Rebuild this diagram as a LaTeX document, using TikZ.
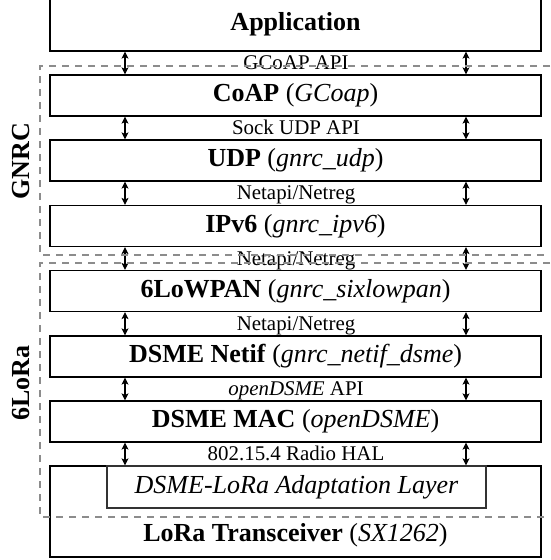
\documentclass[tikz,border=0pt]{standalone}
\usepackage{fontspec}
\setmainfont{Liberation Serif}
\usetikzlibrary{arrows.meta}

\begin{document}
\begin{tikzpicture}[x=0.02cm, y=-0.02cm,
  box/.style={draw, line width=0.7pt, minimum width=9.82cm, minimum height=0.82cm, inner sep=0pt, font=\fontsize{14.8}{17}\selectfont},
  iface/.style={inner sep=0pt, anchor=base, font=\fontsize{11.9}{14}\selectfont},
  arr/.style={{Stealth[length=4pt,width=4pt,inset=1pt]}-{Stealth[length=4pt,width=4pt,inset=1pt]}, line width=0.6pt},
  grp/.style={draw=black!45, dash pattern=on 4pt off 3.4pt, line width=0.75pt},
  side/.style={rotate=90, inner sep=0pt, font=\fontsize{14.8}{17}\selectfont\bfseries}
]
\useasboundingbox (0,0) rectangle (550,560);
\clip (0,0) rectangle (550,560);

% stack
\node[box, minimum height=1.08cm] (app) at (295.5,24) {\textbf{Application}};
\node[box] (coap) at (295.5,95.5) {\textbf{CoAP} (\textit{GCoap})};
\node[box] (udp) at (295.5,160.5) {\textbf{UDP} (\textit{gnrc\_udp})};
\node[box] (ipv6) at (295.5,226) {\textbf{IPv6} (\textit{gnrc\_ipv6})};
\node[box] (lowpan) at (295.5,291) {\textbf{6LoWPAN} (\textit{gnrc\_sixlowpan})};
\node[box] (netif) at (295.5,356.5) {\textbf{DSME Netif} (\textit{gnrc\_netif\_dsme})};
\node[box] (mac) at (295.5,421.5) {\textbf{DSME MAC} (\textit{openDSME})};
\node[box, minimum height=1.82cm] (lora) at (295.5,511.5) {};
\node[draw=black!80, line width=1.2pt, minimum width=7.58cm, minimum height=0.84cm, inner sep=0pt, font=\fontsize{14.8}{17}\selectfont\itshape] (adapt) at (296.5,487) {DSME-LoRa Adaptation Layer};
\node[inner sep=0pt, font=\fontsize{14.8}{17}\selectfont] (trx) at (295.5,535) {\textbf{LoRa Transceiver} (\textit{SX1262})};

% interfaces
\node[iface] (api1) at (296,69.5) {GCoAP API};
\node[iface] (api2) at (296,134.5) {Sock UDP API};
\node[iface] (api3) at (296,199.5) {Netapi/Netreg};
\node[iface] (api4) at (296,265) {Netapi/Netreg};
\node[iface] (api5) at (296,330.5) {Netapi/Netreg};
\node[iface] (api6) at (296,395.5) {\textit{openDSME} API};
\node[iface] (api7) at (296,460.5) {802.15.4 Radio HAL};

% arrows
\coordinate (lt) at (125,0);
\coordinate (rt) at (466,0);
\draw[arr] (app.south -| lt) -- (coap.north -| lt);
\draw[arr] (app.south -| rt) -- (coap.north -| rt);
\draw[arr] (coap.south -| lt) -- (udp.north -| lt);
\draw[arr] (coap.south -| rt) -- (udp.north -| rt);
\draw[arr] (udp.south -| lt) -- (ipv6.north -| lt);
\draw[arr] (udp.south -| rt) -- (ipv6.north -| rt);
\draw[arr] (ipv6.south -| lt) -- (lowpan.north -| lt);
\draw[arr] (ipv6.south -| rt) -- (lowpan.north -| rt);
\draw[arr] (lowpan.south -| lt) -- (netif.north -| lt);
\draw[arr] (lowpan.south -| rt) -- (netif.north -| rt);
\draw[arr] (netif.south -| lt) -- (mac.north -| lt);
\draw[arr] (netif.south -| rt) -- (mac.north -| rt);
\draw[arr] (mac.south -| lt) -- (lora.north -| lt);
\draw[arr] (mac.south -| rt) -- (lora.north -| rt);

% groups
\draw[grp] (550,66) -- (40,66) -- (40,255) -- (550,255);
\draw[grp] (550,263) -- (40,263) -- (40,517) -- (550,517);
\node[side] (gnrc) at (21,161) {GNRC};
\node[side] (sixlora) at (21,383) {6LoRa};
\end{tikzpicture}
\end{document}
